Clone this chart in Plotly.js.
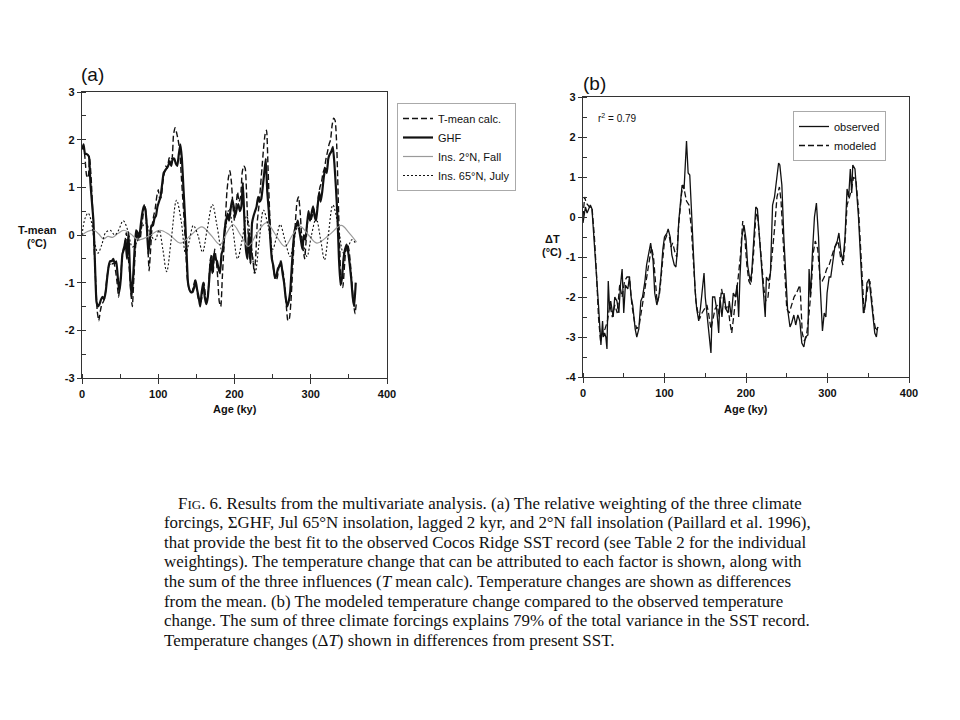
<!DOCTYPE html>
<html>
<head>
<meta charset="utf-8">
<script src="https://cdn.plot.ly/plotly-3.0.1.min.js"></script>
<style>html,body{margin:0;padding:0;background:#fff;}#chart{width:960px;height:720px;}</style>
</head>
<body>
<div id="chart"></div>
<script>
// ---------- Panel (a) data ----------
const ageGHF = [0,2,4,6,9,11,13,15,17,19,21,23,25,27,29,31,33,35,37,39,41,43,45,47,49,51,53,55,57,59,61,63,65,67,69,71,73,75,77,79,81,83,85,87,89,91,93,95,97,99,101,103,105,107,109,111,113,115,117,119,121,123,125,127,129,131,133,135,137,139,141,143,145,147,149,151,153,155,157,159,161,163,165,167,169,171,173,175,177,179,181,183,185,187,189,191,193,195,197,199,201,203,205,207,209,211,213,215,217,219,221,223,225,227,229,231,233,235,237,239,241,243,245,247,249,251,253,255,257,259,261,263,265,267,269,271,273,275,277,279,281,283,285,287,289,291,293,295,297,299,301,303,305,307,309,311,313,315,317,319,321,323,325,327,329,331,333,335,337,339,341,343,345,347,349,351,353,355,357,359,361];
const ghf = [1.8,1.9,1.7,1.7,1.65,1.1,0.7,0.3,-0.6,-1.4,-1.5,-1.45,-1.35,-1.3,-1.35,-1.2,-0.9,-0.65,-0.55,-0.55,-0.5,-0.6,-0.55,-0.9,-1.2,-0.9,-0.4,-0.3,-0.1,-0.5,0.05,-0.8,-1.3,-0.9,-0.3,0.1,0.05,-0.05,0.2,0.45,0.6,0.55,0.2,-0.4,-0.1,0.2,0.2,0.35,0.4,0.6,0.7,0.8,1.05,1.3,1.35,1.4,1.45,1.55,1.45,1.6,1.6,1.5,1.45,1.7,1.9,1.6,1.0,0.4,-0.3,-1.0,-1.15,-1.2,-1.2,-1.1,-0.95,-1.15,-1.3,-1.5,-1.2,-1.0,-1.3,-1.45,-1.3,-0.9,-0.5,-0.8,-0.4,-0.5,-0.55,-0.7,-0.8,-0.4,-0.3,0.1,0.3,0.45,0.3,0.55,0.75,0.6,0.4,0.55,0.65,0.5,0.6,1.1,0.3,-0.3,-0.5,0.05,-0.6,0.25,0.4,0.5,0.6,0.8,0.7,0.75,1.0,1.3,1.6,0.9,0.5,-0.1,-0.5,-0.65,-0.9,-0.85,-0.7,-0.65,-0.55,-0.8,-1.0,-1.3,-1.5,-1.4,-1.2,-0.7,-0.2,0.1,0.2,0.3,0.1,-0.1,-0.3,0.0,-0.1,0.2,0.5,0.3,0.45,0.6,0.4,0.3,0.6,0.9,0.7,0.9,1.2,1.4,1.3,1.6,1.7,1.75,1.85,1.5,1.0,0.4,-0.5,-1.05,-0.9,-0.5,-0.3,-0.2,-0.35,-0.6,-0.9,-1.3,-1.5,-1.0];

const ageTcalc = [0,2,4,6,8,10,12,14,16,18,20,22,24,26,28,30,32,34,36,38,40,42,44,46,48,50,52,54,56,58,60,62,64,66,68,70,72,74,76,78,80,82,84,86,88,90,92,94,96,98,100,102,104,106,108,110,112,114,116,118,120,122,124,126,128,130,132,134,136,138,140,142,144,146,148,150,152,154,156,158,160,162,164,166,168,170,172,174,176,178,180,182,184,186,188,190,192,194,196,198,200,202,204,206,208,210,212,214,216,218,220,222,224,226,228,230,232,234,236,238,240,242,244,246,248,250,252,254,256,258,260,262,264,266,268,270,272,274,276,278,280,282,284,286,288,290,292,294,296,298,300,302,304,306,308,310,312,314,316,318,320,322,324,326,328,330,332,334,336,338,340,342,344,346,348,350,352,354,356,358,360];
const tcalc = [1.8,1.85,1.6,1.25,1.2,1.6,1.2,0.5,-0.3,-1.0,-1.6,-1.8,-1.6,-1.45,-1.4,-1.3,-1.0,-0.75,-0.6,-0.65,-0.6,-0.6,-0.75,-1.0,-1.3,-1.0,-0.6,-0.3,-0.2,0.05,-0.35,-0.7,-1.2,-1.5,-0.9,-0.3,0.05,-0.1,-0.1,0.15,0.4,0.65,0.45,-0.1,-0.75,-0.3,0.2,0.4,0.55,0.8,0.95,0.75,0.8,1.1,1.3,1.45,1.4,1.6,1.65,1.6,2.1,2.25,2.15,2.0,1.8,1.3,0.8,0.3,-0.3,-0.9,-1.1,-1.2,-1.2,-1.1,-0.95,-1.1,-1.3,-1.4,-1.4,-1.2,-1.0,-1.3,-1.4,-1.1,-0.55,-0.4,-0.8,-0.3,-0.5,-0.9,-1.4,-1.5,-0.9,-0.3,0.3,0.9,1.2,1.35,1.1,0.6,0.3,0.6,0.9,0.7,0.8,1.3,1.45,1.4,0.8,0.0,-0.5,-0.3,-0.5,-0.8,-0.4,0.3,0.6,1.0,1.4,1.8,2.1,2.2,1.4,0.5,-0.2,-0.6,-0.8,-0.95,-0.9,-0.7,-0.55,-0.7,-0.8,-1.1,-1.5,-1.8,-1.75,-1.4,-0.8,-0.2,0.3,0.7,0.8,0.5,0.0,-0.3,-0.5,-0.1,0.3,0.4,0.3,0.4,0.55,0.4,0.5,0.8,1.0,1.1,1.3,1.4,1.6,1.75,1.9,2.0,2.3,2.45,2.4,1.9,0.8,-0.3,-1.0,-1.1,-0.7,-0.3,-0.2,-0.3,-0.6,-1.0,-1.4,-1.65,-1.4];

const ageIns2N = [0,8,16,22,28,34,40,47,55,64,74,88,102,115,129,143,157,169,181,190,198,208,218,230,242,254,266,276,286,297,308,324,340,350,360];
const ins2N = [0.0,0.08,0.1,0.02,-0.08,-0.03,-0.05,0.03,0.1,0.02,-0.1,-0.02,0.1,0.0,-0.17,0.0,0.17,0.0,-0.2,0.05,0.22,0.0,-0.24,0.05,0.26,0.0,-0.24,0.0,0.18,0.0,-0.17,0.0,0.2,0.05,-0.15];

const ageIns65N = [0,4,8,12,16,21,26,31,37,43,48,54,60,66,72,78,84,90,96,101,106,111,117,124,130,136,141,146,152,158,164,171,177,183,188,193,198,204,210,216,222,227,232,238,244,250,255,260,266,273,278,283,289,295,301,307,313,318,323,329,336,343,349,354,360];
const ins65N = [0.0,0.35,0.46,0.3,-0.1,-0.38,-0.2,0.05,0.1,0.0,0.1,0.3,0.1,-0.25,-0.15,0.15,0.25,0.0,-0.1,0.1,-0.3,-0.77,-0.1,0.73,0.3,-0.4,-0.1,0.2,0.0,-0.36,0.1,0.64,0.2,-0.3,0.1,0.55,0.1,-0.5,-0.1,0.4,-0.2,-0.8,-0.2,0.52,0.2,-0.3,-0.05,0.22,-0.1,-0.45,-0.1,0.2,-0.1,-0.45,0.0,0.35,-0.1,-0.52,0.0,0.63,0.2,-0.38,-0.25,-0.1,-0.2];

// ---------- Panel (b) data ----------
const ageObs = [0,1,3,5,7,9,11,13,16,19,21,22,24,25,26.5,28,29.4,31,32.6,34,37,39,41.6,44,46,48,50,52,55,57,59,61,64,66,68.5,71,73,76,78,81,83,86,88,90.6,93,95.5,98,100,103,104.5,107,109,112,114,116,117.5,119,121.6,124,126,127,129,131,133,135.5,137.5,139.5,142,144,147,148.5,150,152,154,157,159,161.6,164,166.5,168,170.5,173,175.4,178,179.5,182,184.4,187,189,191,192.6,195,197.5,200,202,205,207,210,212,214,216,219,221,223.6,225,227.7,230,232.6,235,237.5,240,241.5,244,246.4,249,251,254,256,258.7,261,263.6,266,268.5,271,273,276,277.4,279,281.5,284,286.4,289,291,293.8,296,298,299.5,302,304,307,309,312,314,316.6,319,321.5,324,326,328,329.7,331,333.7,335,338,340,342.7,344,347,348.4,351,353,356,358,360,361.5];
const observed = [-0.15,0.0,0.25,0.1,0.2,0.3,0.2,-0.5,-1.3,-2.2,-3.0,-3.2,-2.6,-3.0,-2.9,-3.0,-3.3,-1.6,-2.3,-2.1,-2.5,-2.0,-2.1,-2.4,-1.7,-1.3,-2.4,-1.7,-1.8,-1.5,-2.0,-2.2,-2.8,-3.0,-2.8,-2.1,-2.0,-1.6,-1.2,-0.9,-0.65,-1.1,-1.9,-2.2,-2.0,-1.5,-0.8,-0.5,-0.4,-0.3,-0.5,-0.95,-1.2,-1.25,-0.8,-0.1,0.2,0.8,0.7,1.85,1.9,1.1,1.05,0.2,-1.0,-1.8,-2.3,-2.6,-2.3,-1.8,-1.4,-2.0,-2.5,-2.8,-3.4,-2.0,-2.0,-2.3,-2.9,-2.0,-2.5,-1.9,-2.3,-2.4,-2.1,-2.5,-1.9,-2.0,-1.7,-2.5,-1.5,-0.5,-0.2,-0.55,-1.2,-1.6,-1.4,-0.5,0.25,0.2,-0.4,-1.2,-1.8,-2.5,-1.5,-1.6,-1.4,0.3,0.5,0.9,1.35,1.3,0.8,-0.5,-1.7,-2.3,-2.75,-2.65,-2.45,-2.7,-2.45,-2.6,-3.15,-3.25,-3.0,-2.95,-1.3,-2.0,-0.9,0.0,0.35,-0.5,-1.7,-2.85,-2.4,-2.5,-1.9,-1.5,-1.5,-1.0,-0.75,-0.6,-0.4,-0.9,-1.1,-0.5,0.7,0.5,1.2,0.6,1.3,1.2,0.9,0.0,-0.8,-1.8,-2.4,-2.1,-1.65,-1.55,-1.9,-2.5,-2.9,-3.0,-2.75];

const ageMod = [0,2,4,8,11,14,16.5,19,21.5,24,27,30,33,36,39,42,45,48,51,54,57,60,63,66,69,72,75,78,81,84,86.5,89,91,94,97,100,103,106,108,110,113,115,117,119,121,123,125,127,130,133,136,138.5,141,143,146,149,152,154,157,159,162,165,167,170,172.5,175,178,180,182.5,185,188,190.5,193,196,198.5,201,203.5,206,209,212,214,216.5,219,222,224.5,227,229,232,235,238,241,243,245.5,248,250,253,256,259,262,266,267,269,271.5,274,277,280,282.5,285,288,291,293.5,296,299,302,305,308,310.5,313,316,319,321,324,327,329.5,332,335,338,341,343.5,345,347.5,350,352,354,357,359.5,362];
const modeled = [0.0,0.5,0.35,0.25,0.25,-0.5,-1.4,-2.5,-3.1,-2.9,-2.8,-2.6,-2.2,-2.5,-2.2,-2.4,-1.7,-2.0,-1.6,-1.5,-1.5,-2.2,-2.6,-2.8,-2.7,-2.3,-2.0,-1.5,-1.1,-0.75,-1.0,-1.8,-2.15,-1.9,-1.2,-0.6,-0.45,-0.5,-0.75,-0.65,-0.9,-1.0,-0.3,0.2,0.6,0.8,0.6,0.4,0.3,-0.3,-1.3,-2.1,-2.4,-2.55,-2.4,-2.3,-2.2,-2.4,-2.8,-2.6,-2.3,-2.2,-2.5,-1.8,-2.1,-2.3,-2.2,-2.6,-2.9,-2.5,-1.9,-1.5,-1.0,-0.1,-0.5,-1.2,-1.6,-1.7,-1.0,0.0,0.1,-0.5,-1.3,-1.8,-2.1,-2.0,-1.6,-1.0,-0.3,0.5,0.75,0.4,-0.5,-1.6,-2.3,-2.4,-2.2,-2.0,-1.9,-1.7,-2.0,-2.9,-3.1,-3.0,-2.5,-1.8,-0.9,-0.6,-0.8,-1.6,-1.6,-1.5,-1.3,-1.2,-1.0,-0.8,-0.7,-0.6,-1.0,-1.2,-0.8,0.3,0.5,0.7,1.0,0.9,0.2,-0.8,-1.9,-2.4,-2.0,-1.7,-1.6,-2.0,-2.6,-2.85,-2.75];

// ---------- Ticks and text ----------
const xTickVals = [0, 100, 200, 300, 400];
const yTickValsA = [-3, -2, -1, 0, 1, 2, 3];
const yTickTextA = ['-3', '-2', '-1', '0', '1', '2', '3'];
const yTickValsB = [-4, -3, -2, -1, 0, 1, 2, 3];
const yTickTextB = ['-4', '-3', '-2', '-1', '0', '1', '2', '3'];
const legendNamesA = ['T-mean calc.', 'GHF', 'Ins. 2°N, Fall', 'Ins. 65°N, July'];
const legendNamesB = ['observed', 'modeled'];
const captionLines = [
  'F<span style="font-size:13px">IG</span>. 6. Results from the multivariate analysis. (a) The relative weighting of the three climate',
  'forcings, ΣGHF, Jul 65°N insolation, lagged 2 kyr, and 2°N fall insolation (Paillard et al. 1996),',
  'that provide the best fit to the observed Cocos Ridge SST record (see Table 2 for the individual',
  'weightings). The temperature change that can be attributed to each factor is shown, along with',
  'the sum of the three influences (<i>T</i> mean calc). Temperature changes are shown as differences',
  'from the mean. (b) The modeled temperature change compared to the observed temperature',
  'change. The sum of three climate forcings explains 79% of the total variance in the SST record.',
  'Temperature changes (Δ<i>T</i>) shown in differences from present SST.'
];

const W = 960, H = 720;
const px = v => v / W;
const py = v => 1 - v / H;
const sans = 'Liberation Sans, Arial, Helvetica, sans-serif';
const serif = 'Liberation Serif, Times New Roman, serif';
const black = '#111';

const traces = [
  {x: ageTcalc, y: tcalc, name: legendNamesA[0], mode: 'lines', xaxis: 'x', yaxis: 'y', legend: 'legend',
   line: {color: black, width: 1.4, dash: '6px,3px', shape: 'spline', smoothing: 0.5}},
  {x: ageGHF, y: ghf, name: legendNamesA[1], mode: 'lines', xaxis: 'x', yaxis: 'y', legend: 'legend',
   line: {color: black, width: 2.2, shape: 'spline', smoothing: 0.4}},
  {x: ageIns2N, y: ins2N, name: legendNamesA[2], mode: 'lines', xaxis: 'x', yaxis: 'y', legend: 'legend',
   line: {color: '#9a9a9a', width: 1.2, shape: 'spline', smoothing: 1}},
  {x: ageIns65N, y: ins65N, name: legendNamesA[3], mode: 'lines', xaxis: 'x', yaxis: 'y', legend: 'legend',
   line: {color: black, width: 1.1, dash: '2px,2px', shape: 'spline', smoothing: 1}},
  {x: ageObs, y: observed, name: legendNamesB[0], mode: 'lines', xaxis: 'x2', yaxis: 'y2', legend: 'legend2',
   line: {color: black, width: 1.3}},
  {x: ageMod, y: modeled, name: legendNamesB[1], mode: 'lines', xaxis: 'x2', yaxis: 'y2', legend: 'legend2',
   line: {color: black, width: 1.3, dash: '6px,3px'}}
];

function xAxis(domain, anchor) {
  return {domain: domain, anchor: anchor, range: [0, 400], tickmode: 'array', tickvals: xTickVals, ticks: 'outside', ticklen: 5,
    tickcolor: '#333', showline: true, mirror: true, linecolor: '#333', linewidth: 1.3, showgrid: false, zeroline: false,
    tickfont: {family: sans, size: 11, color: black, weight: 'bold'},
    minor: {dtick: 50, ticks: 'inside', ticklen: 4, tickcolor: '#333'}};
}
function yAxis(domain, anchor, range, vals, texts) {
  return {domain: domain, anchor: anchor, range: range, tickmode: 'array', tickvals: vals, ticktext: texts,
    ticks: 'outside', ticklen: 4,
    tickcolor: '#333', showline: true, mirror: true, linecolor: '#333', linewidth: 1.3, showgrid: false, zeroline: false,
    tickfont: {family: sans, size: 11, color: black, weight: 'bold'},
    minor: {dtick: 0.5, ticks: 'inside', ticklen: 4, tickcolor: '#333'}};
}

const boldFont = {family: sans, size: 11, color: black, weight: 'bold'};
const annotations = [
  {text: '(a)', x: px(79), y: py(75), xanchor: 'left', yanchor: 'middle', font: {family: sans, size: 19, color: black}},
  {text: '(b)', x: px(581), y: py(83), xanchor: 'left', yanchor: 'middle', font: {family: sans, size: 19, color: black}},
  {text: 'T-mean', x: px(37), y: py(230), xanchor: 'center', yanchor: 'middle', font: boldFont},
  {text: '(°C)', x: px(37), y: py(243), xanchor: 'center', yanchor: 'middle', font: boldFont},
  {text: 'ΔT', x: px(552), y: py(239), xanchor: 'center', yanchor: 'middle', font: boldFont},
  {text: '(°C)', x: px(552), y: py(252), xanchor: 'center', yanchor: 'middle', font: boldFont},
  {text: 'Age (ky)', x: px(235), y: py(409), xanchor: 'center', yanchor: 'middle', font: boldFont},
  {text: 'Age (ky)', x: px(746), y: py(409), xanchor: 'center', yanchor: 'middle', font: boldFont},
  {text: 'r<sup>2</sup> = 0.79', x: px(596), y: py(118), xanchor: 'left', yanchor: 'middle', font: {family: sans, size: 10, color: black}}
];
const capTop = 503, capStep = 19.6;
captionLines.forEach((t, i) => {
  annotations.push({text: t, x: px(i === 0 ? 176 : 162), y: py(capTop + i * capStep), xanchor: 'left', yanchor: 'middle',
    font: {family: serif, size: 16.9, color: black}});
});
annotations.forEach(a => { a.xref = 'paper'; a.yref = 'paper'; a.showarrow = false; });

const layout = {
  width: W, height: H, margin: {l: 0, r: 0, t: 0, b: 0},
  paper_bgcolor: '#fff', plot_bgcolor: '#fff',
  showlegend: true,
  xaxis: xAxis([px(82), px(387)], 'y'),
  yaxis: yAxis([1 - 378 / H, 1 - 92 / H], 'x', [-3, 3], yTickValsA, yTickTextA),
  xaxis2: xAxis([px(583), px(909)], 'y2'),
  yaxis2: yAxis([1 - 377 / H, 1 - 97 / H], 'x2', [-4, 3], yTickValsB, yTickTextB),
  legend: {x: px(397), y: py(103), xanchor: 'left', yanchor: 'top', bgcolor: '#fff', bordercolor: '#aaa', borderwidth: 1,
    font: {family: sans, size: 11, color: black}, tracegroupgap: 0, itemwidth: 30},
  legend2: {x: px(793), y: py(111), xanchor: 'left', yanchor: 'top', bgcolor: '#fff', bordercolor: '#aaa', borderwidth: 1,
    font: {family: sans, size: 11, color: black}, tracegroupgap: 0, itemwidth: 30},
  annotations: annotations
};

Plotly.newPlot('chart', traces, layout, {staticPlot: true, displayModeBar: false});
</script>
</body>
</html>
